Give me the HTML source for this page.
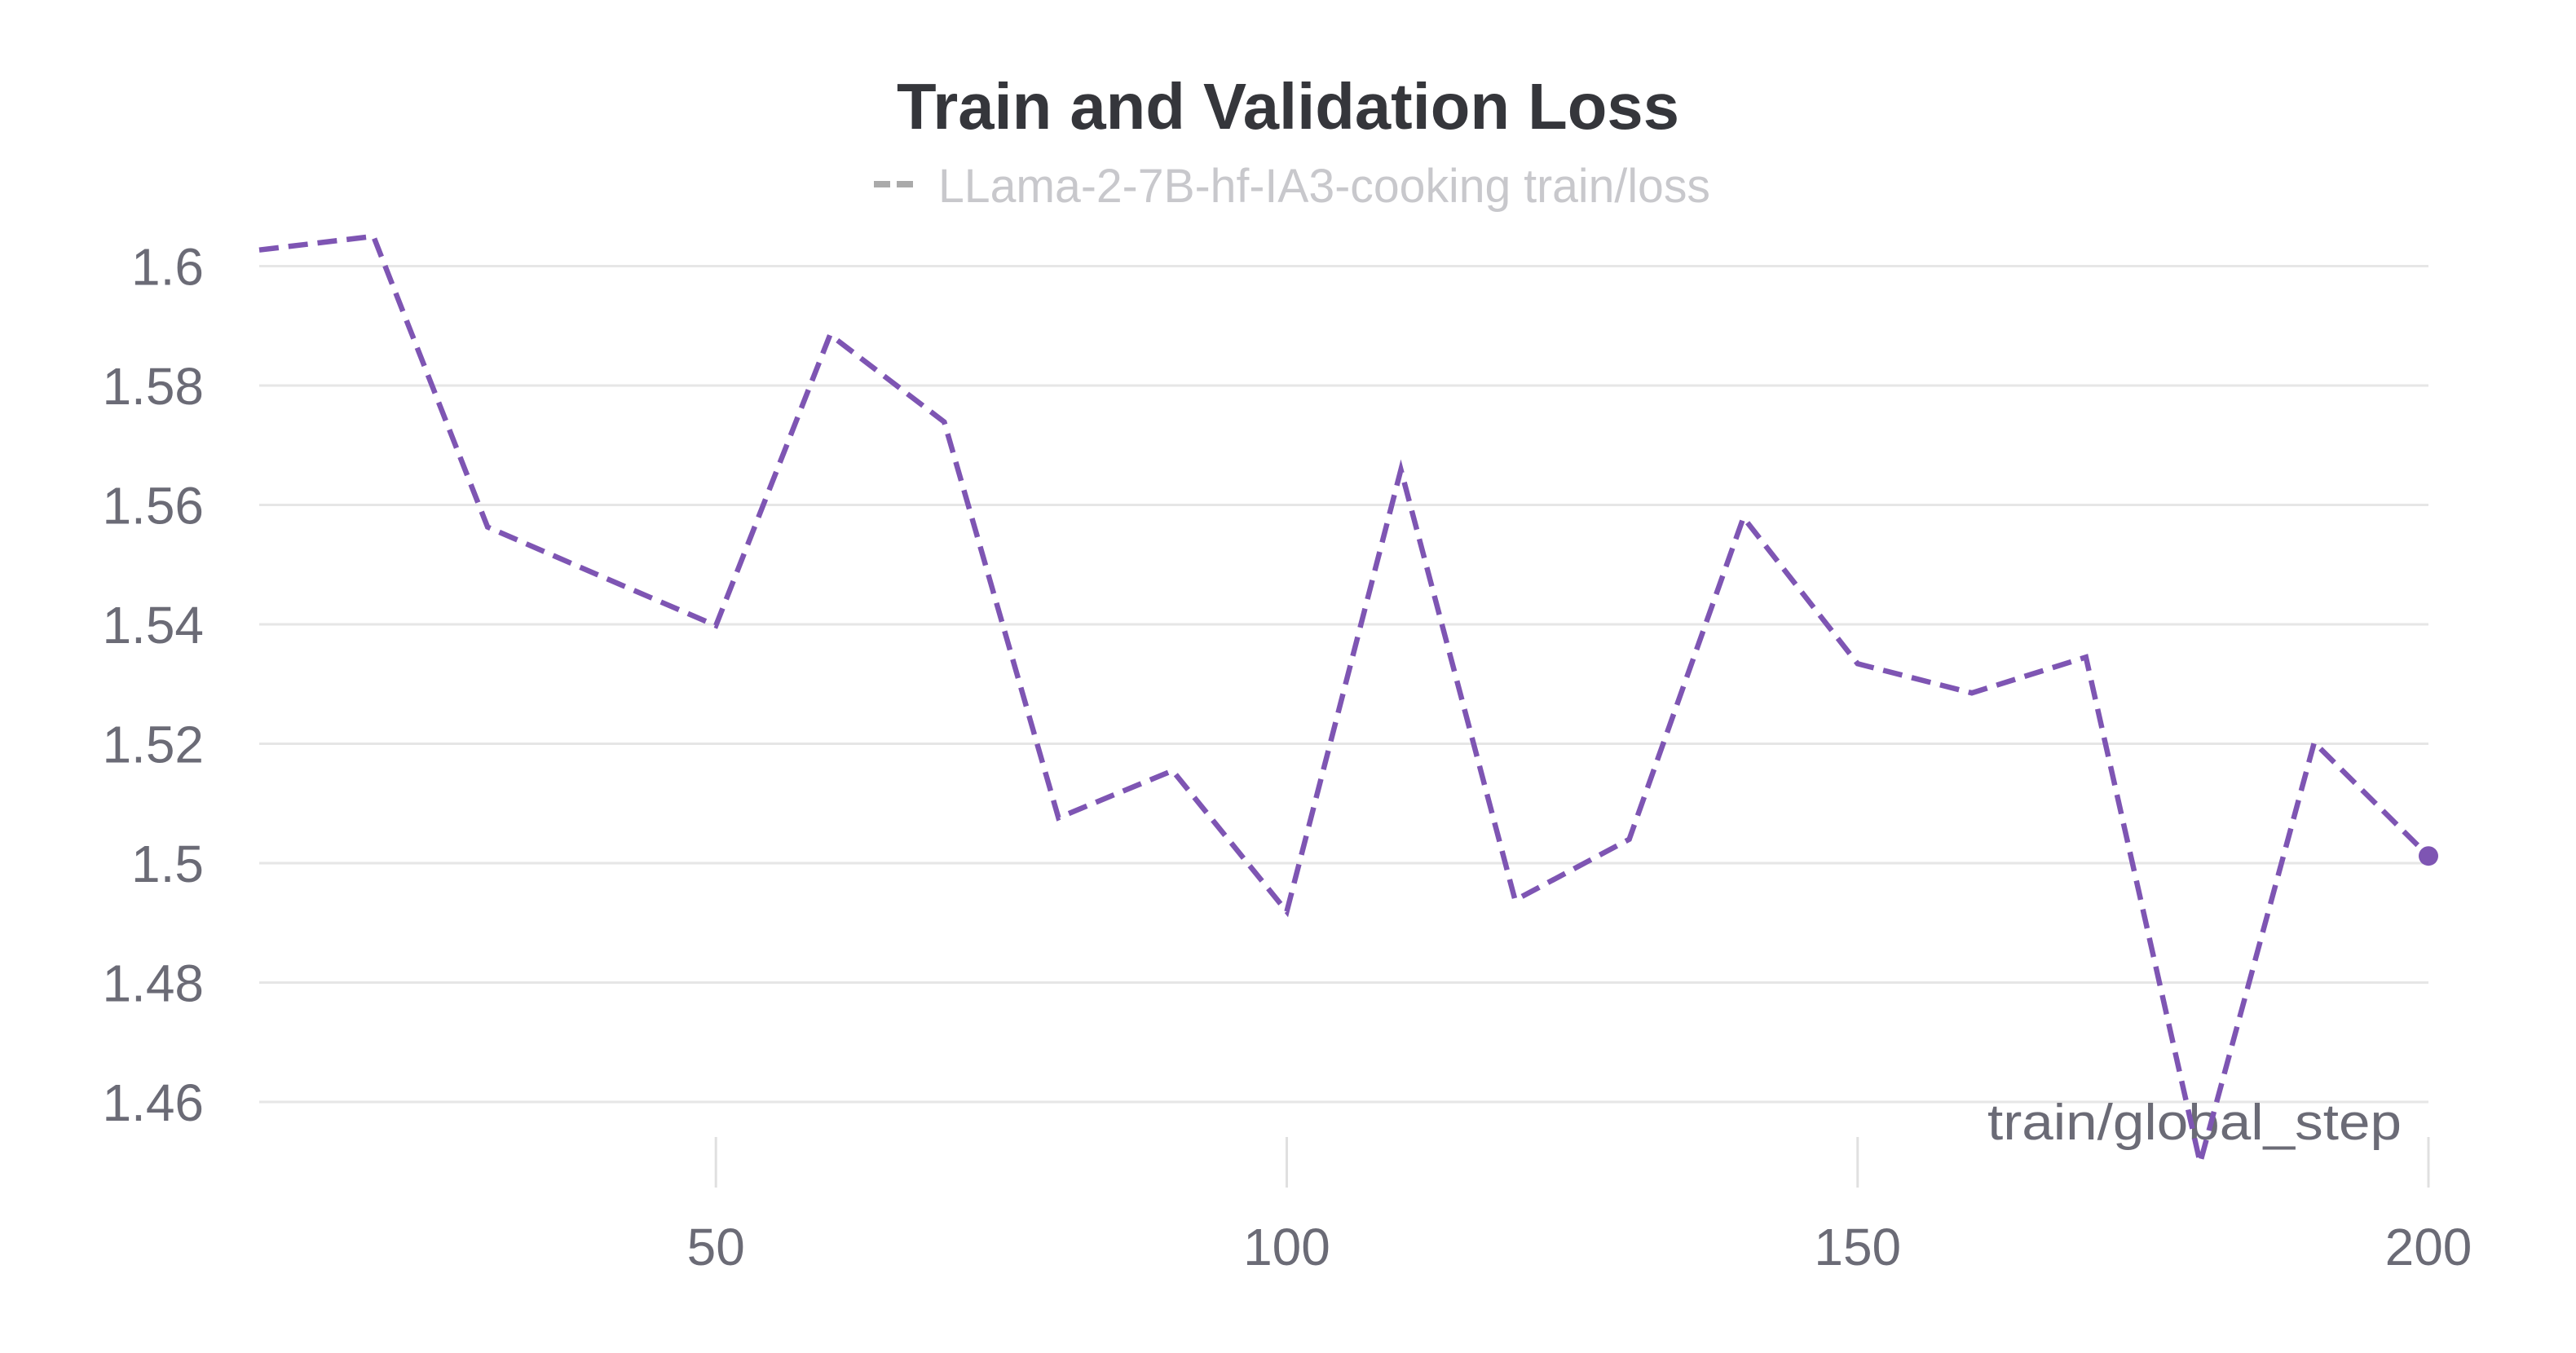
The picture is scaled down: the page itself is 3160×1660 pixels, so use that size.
<!DOCTYPE html>
<html><head><meta charset="utf-8"><style>
html,body{margin:0;padding:0;background:#fff;}
svg{display:block;font-family:"Liberation Sans",sans-serif;}
</style></head><body>
<svg id="chart" width="3160" height="1660" viewBox="0 0 3160 1660" xmlns="http://www.w3.org/2000/svg">
<text x="1580" y="158" text-anchor="middle" font-size="80" font-weight="bold" fill="#35363b" textLength="960" lengthAdjust="spacingAndGlyphs">Train and Validation Loss</text>
<g>
<line x1="1072" y1="226" x2="1120" y2="226" stroke="#aaaaaa" stroke-width="8" stroke-dasharray="20 8"/>
<text x="1151" y="248" font-size="58" fill="#c8c8cc" textLength="947" lengthAdjust="spacingAndGlyphs">LLama-2-7B-hf-IA3-cooking train/loss</text>
</g>
<g id="grid"></g>
<g id="yaxis"></g>
<g id="xaxis"></g>
<text x="2946" y="1398" text-anchor="end" font-size="62" fill="#6b6b76" textLength="508" lengthAdjust="spacingAndGlyphs">train/global_step</text>
<g id="series"></g>
</svg>
<script>
const steps = [10,20,30,40,50,60,70,80,90,100,110,120,130,140,150,160,170,180,190,200];
const lossValues = [1.6027,1.605,1.5563,1.548,1.5398,1.5885,1.5739,1.5076,1.5155,1.4919,1.5659,1.4938,1.504,1.5579,1.5334,1.5285,1.5345,1.4498,1.5202,1.5012];
const yTicks = [1.46,1.48,1.5,1.52,1.54,1.56,1.58,1.6];
const yTickLabels = ["1.46","1.48","1.5","1.52","1.54","1.56","1.58","1.6"];
const xTicks = [50,100,150,200];
const xTickLabels = ["50","100","150","200"];

const NS = "http://www.w3.org/2000/svg";
const X0 = 318, X1 = 2979;
function xs(v){ return X0 + (v - 10) / 190 * (X1 - X0); }
function ys(v){ return 326.5 + (1.6 - v) / 0.02 * 146.5; }
function mk(tag, attrs, parent){ const e = document.createElementNS(NS, tag); for (const k in attrs) e.setAttribute(k, attrs[k]); parent.appendChild(e); return e; }

const grid = document.getElementById('grid');
const yaxis = document.getElementById('yaxis');
yTicks.forEach((t, i) => {
  const l = mk('line', {x1: X0, x2: X1, y1: ys(t), y2: ys(t), stroke: '#e6e6e6', 'stroke-width': 3}, grid);
  
  
  const tx = mk('text', {x: 250, y: ys(t) + 23, 'text-anchor': 'end', 'font-size': 64, fill: '#6b6b76'}, yaxis);
  tx.textContent = yTickLabels[i];
  
  
});
const xaxis = document.getElementById('xaxis');
xTicks.forEach((t, i) => {
  const l = mk('line', {x1: xs(t), x2: xs(t), y1: 1395, y2: 1457, stroke: '#e0e0e0', 'stroke-width': 3}, xaxis);
  
  
  const tx = mk('text', {x: xs(t), y: 1552, 'text-anchor': 'middle', 'font-size': 64, fill: '#6b6b76'}, xaxis);
  tx.textContent = xTickLabels[i];
  
  
});
const series = document.getElementById('series');
const pts = steps.map((s, i) => xs(s).toFixed(1) + ',' + ys(lossValues[i]).toFixed(1)).join(' ');
const pl = mk('polyline', {points: pts, fill: 'none', stroke: '#7e55b3', 'stroke-width': 6.5, 'stroke-dasharray': '24 12', 'stroke-linejoin': 'miter'}, series);


const n = steps.length - 1;
const dot = mk('circle', {cx: xs(steps[n]), cy: ys(lossValues[n]), r: 12, fill: '#7e55b3'}, series);


</script>
</body></html>
